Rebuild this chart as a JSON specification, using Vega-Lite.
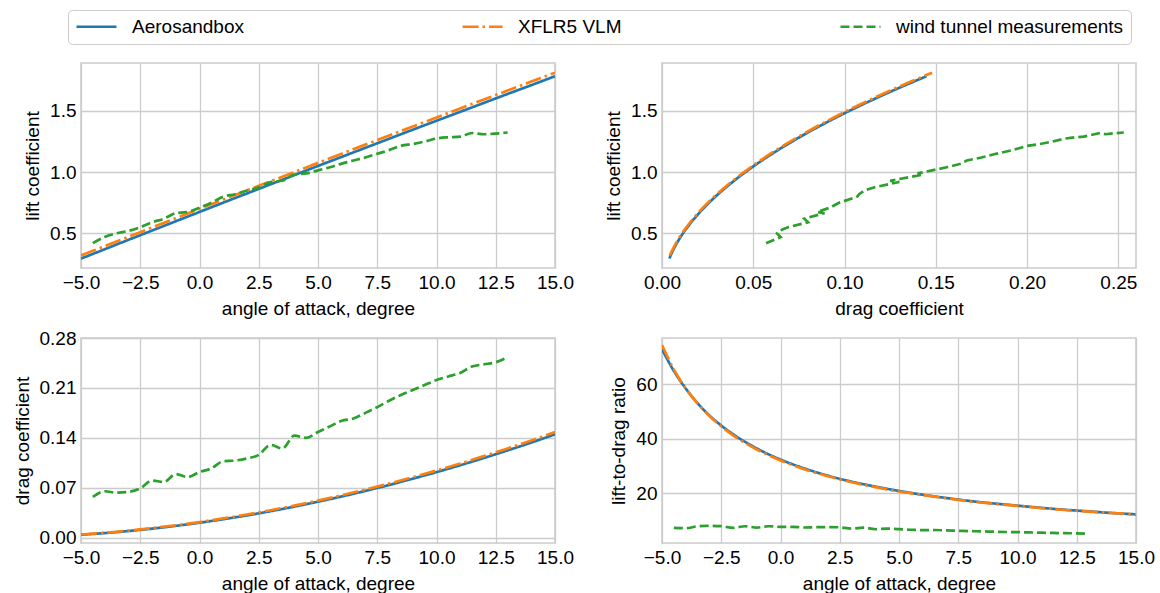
{
  "$schema": "https://vega.github.io/schema/vega-lite/v6.json",
  "background": "white",
  "padding": {"left": 12, "top": 9, "right": 5, "bottom": 2},
  "config": {
    "font": "Liberation Sans",
    "view": {"stroke": "#cccccc", "strokeWidth": 1.6},
    "axis": {
      "grid": true, "gridColor": "#cccccc", "gridWidth": 1.3,
      "domain": false, "ticks": false,
      "labelFontSize": 19, "titleFontSize": 19,
      "labelColor": "#000000", "titleColor": "#000000",
      "titleFontWeight": "normal", "labelPadding": 5, "titlePadding": 7,
      "labelFlush": false, "labelOverlap": false,
      "labelFont": "Liberation Sans", "titleFont": "Liberation Sans"
    },
    "legend": {
      "orient": "none", "legendX": -13, "legendY": -53,
      "direction": "horizontal", "columns": 3, "columnPadding": 217,
      "symbolType": "stroke", "symbolSize": 1600, "symbolStrokeWidth": 2.7,
      "clipHeight": 19,
      "labelFontSize": 19, "labelFont": "Liberation Sans", "labelColor": "#000000",
      "labelLimit": 500,
      "labelOffset": 14, "strokeColor": "#cccccc", "fillColor": "#ffffff",
      "cornerRadius": 4, "padding": 7, "title": null
    }
  },
  "datasets": {
    "d": [
      {"source": "Aerosandbox", "alpha": -5, "CL": 0.294, "CD": 0.00403, "LD": 72.9},
      {"source": "Aerosandbox", "alpha": -4.5, "CL": 0.332, "CD": 0.00511, "LD": 64.9},
      {"source": "Aerosandbox", "alpha": -4, "CL": 0.370, "CD": 0.00633, "LD": 58.5},
      {"source": "Aerosandbox", "alpha": -3.5, "CL": 0.409, "CD": 0.00770, "LD": 53.1},
      {"source": "Aerosandbox", "alpha": -3, "CL": 0.447, "CD": 0.00919, "LD": 48.6},
      {"source": "Aerosandbox", "alpha": -2.5, "CL": 0.485, "CD": 0.01080, "LD": 44.9},
      {"source": "Aerosandbox", "alpha": -2, "CL": 0.523, "CD": 0.01254, "LD": 41.7},
      {"source": "Aerosandbox", "alpha": -1, "CL": 0.599, "CD": 0.01643, "LD": 36.5},
      {"source": "Aerosandbox", "alpha": 0, "CL": 0.675, "CD": 0.02083, "LD": 32.4},
      {"source": "Aerosandbox", "alpha": 1, "CL": 0.751, "CD": 0.02576, "LD": 29.2},
      {"source": "Aerosandbox", "alpha": 2, "CL": 0.826, "CD": 0.03114, "LD": 26.5},
      {"source": "Aerosandbox", "alpha": 3, "CL": 0.901, "CD": 0.03704, "LD": 24.3},
      {"source": "Aerosandbox", "alpha": 4, "CL": 0.976, "CD": 0.04344, "LD": 22.5},
      {"source": "Aerosandbox", "alpha": 5, "CL": 1.051, "CD": 0.05036, "LD": 20.9},
      {"source": "Aerosandbox", "alpha": 6, "CL": 1.125, "CD": 0.05768, "LD": 19.5},
      {"source": "Aerosandbox", "alpha": 7, "CL": 1.199, "CD": 0.06551, "LD": 18.3},
      {"source": "Aerosandbox", "alpha": 8, "CL": 1.273, "CD": 0.07383, "LD": 17.2},
      {"source": "Aerosandbox", "alpha": 9, "CL": 1.347, "CD": 0.08266, "LD": 16.3},
      {"source": "Aerosandbox", "alpha": 10, "CL": 1.420, "CD": 0.09185, "LD": 15.5},
      {"source": "Aerosandbox", "alpha": 11, "CL": 1.493, "CD": 0.10152, "LD": 14.7},
      {"source": "Aerosandbox", "alpha": 12, "CL": 1.566, "CD": 0.11168, "LD": 14.0},
      {"source": "Aerosandbox", "alpha": 13, "CL": 1.639, "CD": 0.12233, "LD": 13.4},
      {"source": "Aerosandbox", "alpha": 14, "CL": 1.711, "CD": 0.13330, "LD": 12.8},
      {"source": "Aerosandbox", "alpha": 15, "CL": 1.784, "CD": 0.14491, "LD": 12.3},
      {"source": "XFLR5 VLM", "alpha": -5, "CL": 0.319, "CD": 0.00429, "LD": 74.4},
      {"source": "XFLR5 VLM", "alpha": -4.5, "CL": 0.357, "CD": 0.00546, "LD": 65.5},
      {"source": "XFLR5 VLM", "alpha": -4, "CL": 0.396, "CD": 0.00676, "LD": 58.5},
      {"source": "XFLR5 VLM", "alpha": -3.5, "CL": 0.434, "CD": 0.00819, "LD": 53.0},
      {"source": "XFLR5 VLM", "alpha": -3, "CL": 0.472, "CD": 0.00975, "LD": 48.4},
      {"source": "XFLR5 VLM", "alpha": -2.5, "CL": 0.510, "CD": 0.01144, "LD": 44.6},
      {"source": "XFLR5 VLM", "alpha": -2, "CL": 0.548, "CD": 0.01326, "LD": 41.3},
      {"source": "XFLR5 VLM", "alpha": -1, "CL": 0.624, "CD": 0.01728, "LD": 36.1},
      {"source": "XFLR5 VLM", "alpha": 0, "CL": 0.700, "CD": 0.02180, "LD": 32.1},
      {"source": "XFLR5 VLM", "alpha": 1, "CL": 0.776, "CD": 0.02684, "LD": 28.9},
      {"source": "XFLR5 VLM", "alpha": 2, "CL": 0.851, "CD": 0.03237, "LD": 26.3},
      {"source": "XFLR5 VLM", "alpha": 3, "CL": 0.926, "CD": 0.03840, "LD": 24.1},
      {"source": "XFLR5 VLM", "alpha": 4, "CL": 1.001, "CD": 0.04492, "LD": 22.3},
      {"source": "XFLR5 VLM", "alpha": 5, "CL": 1.076, "CD": 0.05193, "LD": 20.7},
      {"source": "XFLR5 VLM", "alpha": 6, "CL": 1.151, "CD": 0.05942, "LD": 19.4},
      {"source": "XFLR5 VLM", "alpha": 7, "CL": 1.225, "CD": 0.06739, "LD": 18.2},
      {"source": "XFLR5 VLM", "alpha": 8, "CL": 1.299, "CD": 0.07584, "LD": 17.1},
      {"source": "XFLR5 VLM", "alpha": 9, "CL": 1.373, "CD": 0.08476, "LD": 16.2},
      {"source": "XFLR5 VLM", "alpha": 10, "CL": 1.447, "CD": 0.09415, "LD": 15.4},
      {"source": "XFLR5 VLM", "alpha": 11, "CL": 1.521, "CD": 0.10400, "LD": 14.6},
      {"source": "XFLR5 VLM", "alpha": 12, "CL": 1.594, "CD": 0.11432, "LD": 13.9},
      {"source": "XFLR5 VLM", "alpha": 13, "CL": 1.667, "CD": 0.12509, "LD": 13.3},
      {"source": "XFLR5 VLM", "alpha": 14, "CL": 1.740, "CD": 0.13631, "LD": 12.8},
      {"source": "XFLR5 VLM", "alpha": 15, "CL": 1.813, "CD": 0.14798, "LD": 12.3},
      {"source": "wind tunnel measurements", "alpha": -4.5, "CL": 0.42, "CD": 0.057, "LD": 7.37},
      {"source": "wind tunnel measurements", "alpha": -4.0, "CL": 0.47, "CD": 0.065, "LD": 7.23},
      {"source": "wind tunnel measurements", "alpha": -3.5, "CL": 0.50, "CD": 0.063, "LD": 7.94},
      {"source": "wind tunnel measurements", "alpha": -3.0, "CL": 0.52, "CD": 0.064, "LD": 8.13},
      {"source": "wind tunnel measurements", "alpha": -2.5, "CL": 0.55, "CD": 0.069, "LD": 7.97},
      {"source": "wind tunnel measurements", "alpha": -2.0, "CL": 0.59, "CD": 0.080, "LD": 7.38},
      {"source": "wind tunnel measurements", "alpha": -1.5, "CL": 0.62, "CD": 0.078, "LD": 7.95},
      {"source": "wind tunnel measurements", "alpha": -1.0, "CL": 0.665, "CD": 0.089, "LD": 7.47},
      {"source": "wind tunnel measurements", "alpha": -0.5, "CL": 0.675, "CD": 0.085, "LD": 7.94},
      {"source": "wind tunnel measurements", "alpha": 0.0, "CL": 0.71, "CD": 0.092, "LD": 7.72},
      {"source": "wind tunnel measurements", "alpha": 0.5, "CL": 0.75, "CD": 0.097, "LD": 7.73},
      {"source": "wind tunnel measurements", "alpha": 1.0, "CL": 0.80, "CD": 0.107, "LD": 7.48},
      {"source": "wind tunnel measurements", "alpha": 1.5, "CL": 0.82, "CD": 0.108, "LD": 7.59},
      {"source": "wind tunnel measurements", "alpha": 2.0, "CL": 0.85, "CD": 0.111, "LD": 7.66},
      {"source": "wind tunnel measurements", "alpha": 2.5, "CL": 0.875, "CD": 0.116, "LD": 7.54},
      {"source": "wind tunnel measurements", "alpha": 3.0, "CL": 0.92, "CD": 0.130, "LD": 7.08},
      {"source": "wind tunnel measurements", "alpha": 3.5, "CL": 0.93, "CD": 0.125, "LD": 7.44},
      {"source": "wind tunnel measurements", "alpha": 4.0, "CL": 0.98, "CD": 0.143, "LD": 6.85},
      {"source": "wind tunnel measurements", "alpha": 4.5, "CL": 0.99, "CD": 0.140, "LD": 7.07},
      {"source": "wind tunnel measurements", "alpha": 5.0, "CL": 1.015, "CD": 0.148, "LD": 6.86},
      {"source": "wind tunnel measurements", "alpha": 5.5, "CL": 1.04, "CD": 0.156, "LD": 6.67},
      {"source": "wind tunnel measurements", "alpha": 6.0, "CL": 1.07, "CD": 0.164, "LD": 6.52},
      {"source": "wind tunnel measurements", "alpha": 6.5, "CL": 1.095, "CD": 0.167, "LD": 6.56},
      {"source": "wind tunnel measurements", "alpha": 7.0, "CL": 1.12, "CD": 0.175, "LD": 6.40},
      {"source": "wind tunnel measurements", "alpha": 7.5, "CL": 1.15, "CD": 0.183, "LD": 6.28},
      {"source": "wind tunnel measurements", "alpha": 8.0, "CL": 1.18, "CD": 0.192, "LD": 6.15},
      {"source": "wind tunnel measurements", "alpha": 8.5, "CL": 1.215, "CD": 0.200, "LD": 6.08},
      {"source": "wind tunnel measurements", "alpha": 9.0, "CL": 1.23, "CD": 0.207, "LD": 5.94},
      {"source": "wind tunnel measurements", "alpha": 9.5, "CL": 1.25, "CD": 0.214, "LD": 5.84},
      {"source": "wind tunnel measurements", "alpha": 10.0, "CL": 1.275, "CD": 0.221, "LD": 5.77},
      {"source": "wind tunnel measurements", "alpha": 10.5, "CL": 1.285, "CD": 0.226, "LD": 5.69},
      {"source": "wind tunnel measurements", "alpha": 11.0, "CL": 1.29, "CD": 0.231, "LD": 5.58},
      {"source": "wind tunnel measurements", "alpha": 11.5, "CL": 1.32, "CD": 0.240, "LD": 5.50},
      {"source": "wind tunnel measurements", "alpha": 12.0, "CL": 1.31, "CD": 0.243, "LD": 5.39},
      {"source": "wind tunnel measurements", "alpha": 12.5, "CL": 1.315, "CD": 0.246, "LD": 5.35},
      {"source": "wind tunnel measurements", "alpha": 13.0, "CL": 1.324, "CD": 0.253, "LD": 5.23}
    ]
  },
  "data": {"name": "d"},
  "columns": 2,
  "spacing": {"row": 9, "column": 28},
  "concat": [
    {
      "width": 474, "height": 205,
      "mark": {"type": "line", "clip": true, "strokeWidth": 2.7, "interpolate": "monotone"},
      "encoding": {
        "x": {"field": "alpha", "type": "quantitative", "title": "angle of attack, degree",
              "scale": {"domain": [-5, 15], "nice": false, "zero": false},
              "axis": {"values": [-5, -2.5, 0, 2.5, 5, 7.5, 10, 12.5, 15], "format": ".1f"}},
        "y": {"field": "CL", "type": "quantitative", "title": "lift coefficient",
              "scale": {"domain": [0.217, 1.892], "nice": false, "zero": false},
              "axis": {"values": [0.5, 1.0, 1.5], "format": ".1f"}},
        "color": {"field": "source", "type": "nominal",
                  "scale": {"domain": ["Aerosandbox", "XFLR5 VLM", "wind tunnel measurements"], "range": ["#1f77b4", "#ff7f0e", "#2ca02c"]}},
        "strokeDash": {"field": "source", "type": "nominal",
                  "scale": {"domain": ["Aerosandbox", "XFLR5 VLM", "wind tunnel measurements"], "range": [[1, 0], [16, 4, 2.5, 4], [9, 4]]}}
      }
    },
    {
      "width": 474, "height": 205,
      "mark": {"type": "line", "clip": true, "strokeWidth": 2.7},
      "encoding": {
        "x": {"field": "CD", "type": "quantitative", "title": "drag coefficient",
              "scale": {"domain": [0, 0.2597], "nice": false, "zero": false},
              "axis": {"values": [0, 0.05, 0.1, 0.15, 0.2, 0.25], "format": ".2f"}},
        "y": {"field": "CL", "type": "quantitative", "title": "lift coefficient",
              "scale": {"domain": [0.217, 1.892], "nice": false, "zero": false},
              "axis": {"values": [0.5, 1.0, 1.5], "format": ".1f"}},
        "order": {"field": "alpha", "type": "quantitative"},
        "color": {"field": "source", "type": "nominal",
                  "scale": {"domain": ["Aerosandbox", "XFLR5 VLM", "wind tunnel measurements"], "range": ["#1f77b4", "#ff7f0e", "#2ca02c"]}},
        "strokeDash": {"field": "source", "type": "nominal",
                  "scale": {"domain": ["Aerosandbox", "XFLR5 VLM", "wind tunnel measurements"], "range": [[1, 0], [16, 4, 2.5, 4], [9, 4]]}}
      }
    },
    {
      "width": 474, "height": 205,
      "mark": {"type": "line", "clip": true, "strokeWidth": 2.7, "interpolate": "monotone"},
      "encoding": {
        "x": {"field": "alpha", "type": "quantitative", "title": "angle of attack, degree",
              "scale": {"domain": [-5, 15], "nice": false, "zero": false},
              "axis": {"values": [-5, -2.5, 0, 2.5, 5, 7.5, 10, 12.5, 15], "format": ".1f"}},
        "y": {"field": "CD", "type": "quantitative", "title": "drag coefficient",
              "scale": {"domain": [-0.0076, 0.28], "nice": false, "zero": false},
              "axis": {"values": [0, 0.07, 0.14, 0.21, 0.28], "format": ".2f"}},
        "color": {"field": "source", "type": "nominal",
                  "scale": {"domain": ["Aerosandbox", "XFLR5 VLM", "wind tunnel measurements"], "range": ["#1f77b4", "#ff7f0e", "#2ca02c"]}},
        "strokeDash": {"field": "source", "type": "nominal",
                  "scale": {"domain": ["Aerosandbox", "XFLR5 VLM", "wind tunnel measurements"], "range": [[1, 0], [16, 4, 2.5, 4], [9, 4]]}}
      }
    },
    {
      "width": 474, "height": 205,
      "mark": {"type": "line", "clip": true, "strokeWidth": 2.7, "interpolate": "monotone"},
      "encoding": {
        "x": {"field": "alpha", "type": "quantitative", "title": "angle of attack, degree",
              "scale": {"domain": [-5, 15], "nice": false, "zero": false},
              "axis": {"values": [-5, -2.5, 0, 2.5, 5, 7.5, 10, 12.5, 15], "format": ".1f"}},
        "y": {"field": "LD", "type": "quantitative", "title": "lift-to-drag ratio",
              "scale": {"domain": [1.8, 77], "nice": false, "zero": false},
              "axis": {"values": [20, 40, 60], "format": "d"}},
        "color": {"field": "source", "type": "nominal",
                  "scale": {"domain": ["Aerosandbox", "XFLR5 VLM", "wind tunnel measurements"], "range": ["#1f77b4", "#ff7f0e", "#2ca02c"]}},
        "strokeDash": {"field": "source", "type": "nominal",
                  "scale": {"domain": ["Aerosandbox", "XFLR5 VLM", "wind tunnel measurements"], "range": [[1, 0], [16, 4, 2.5, 4], [9, 4]]}}
      }
    }
  ]
}
